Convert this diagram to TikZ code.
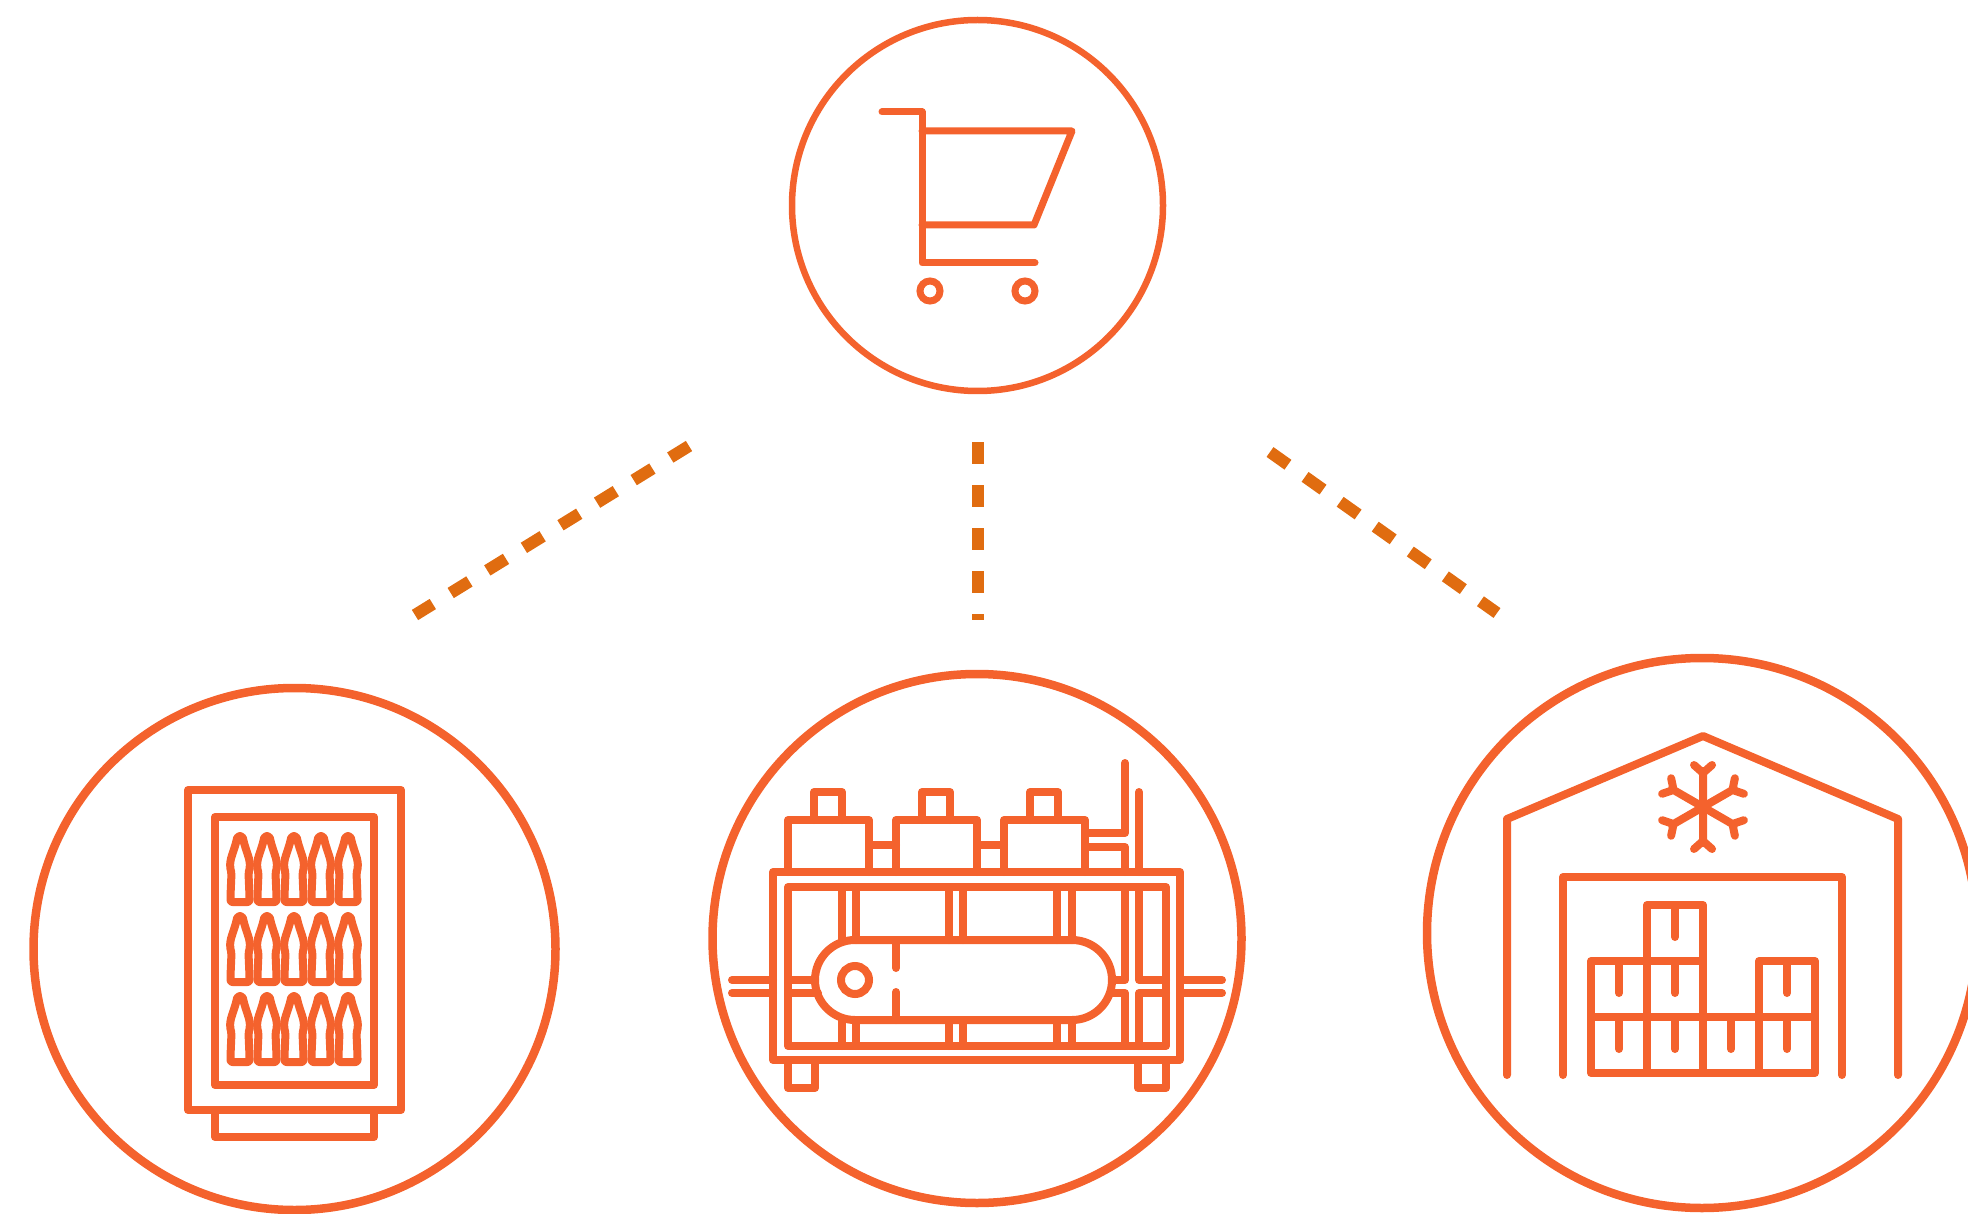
\documentclass[tikz,border=0pt]{standalone}
\usepackage{tikz}
\usetikzlibrary{shapes,arrows,positioning}
\definecolor{rust}{HTML}{F4622D}
\definecolor{amber}{HTML}{E06C10}
\tikzstyle{ringthin}=[circle,draw=rust,line width=6.5pt,inner sep=0pt]
\tikzstyle{ring}=[circle,draw=rust,line width=8.5pt,inner sep=0pt]
\tikzstyle{icon}=[draw=rust,line width=8pt,line join=round,line cap=round]
\tikzstyle{iconthin}=[draw=rust,line width=7pt,line join=round,line cap=round]
\tikzstyle{link}=[draw=amber,line width=12pt,dash pattern=on 22pt off 21pt]

\begin{document}
\begin{tikzpicture}[x=1pt,y=-1pt]
\useasboundingbox (0,0) rectangle (1968,1214);
\clip (0,0) rectangle (1968,1214);
\node (shop) [ringthin,minimum size=371pt] at (977.5,205.5) {};
\node (fridge) [ring,minimum size=522pt] at (294.5,949) {};
\node (plant) [ring,minimum size=529pt] at (977,938.5) {};
\node (cold) [ring,minimum size=550pt] at (1702,933) {};
\coordinate (shopL) at (689,446);
\coordinate (fridgeT) at (415,615);
\coordinate (shopM) at (978,442);
\coordinate (plantT) at (978,620);
\coordinate (shopR) at (1270,452);
\coordinate (coldT) at (1497,613);
\draw [link] (shopL) -- (fridgeT);
\draw [link] (shopM) -- (plantT);
\draw [link] (shopR) -- (coldT);
% cart
\draw [iconthin] (882,112) -- (922,112) -- (922,263) -- (1035,263);
\draw [iconthin] (922,131) -- (1072,131) -- (1034,225) -- (922,225);
\node (wheelA) [circle,draw=rust,line width=7pt,minimum size=20pt,inner sep=0pt] at (930,291) {};
\node (wheelB) [circle,draw=rust,line width=7pt,minimum size=20pt,inner sep=0pt] at (1025,291) {};
% fridge
\draw [icon] (188,790) rectangle (401,1110);
\draw [icon] (215,817) rectangle (374,1085);
\draw [icon] (215,1110) -- (215,1137) -- (374,1137) -- (374,1110);
\foreach \y in {836,916,996}
  \foreach \x in {240,267,294,321,348}
    \draw [icon,shift={(\x,\y)},rounded corners=2pt] (-2.5,0) -- (2.5,0) -- (4,7) -- (9.5,24) -- (10,31) -- (8.5,37) -- (9.5,60) -- (9.5,66) -- (-9.5,66) -- (-9.5,60) -- (-8.5,37) -- (-10,31) -- (-9.5,24) -- (-4,7) -- cycle;
% machine
\draw [icon] (773,872) rectangle (1180,1060);
\draw [icon] (788,887) rectangle (1166,1046);
\draw [icon] (788,1060) -- (788,1088) -- (815,1088) -- (815,1060);
\draw [icon] (1138,1060) -- (1138,1088) -- (1166,1088) -- (1166,1060);
\foreach \x in {788,896,1004} {
  \draw [icon] (\x,872) -- (\x,820) -- (\x+81,820) -- (\x+81,872);
  \draw [icon] (\x+26,820) -- (\x+26,792) -- (\x+54,792) -- (\x+54,820);
}
\draw [icon] (869,845) -- (896,845);
\draw [icon] (977,845) -- (1004,845);
\draw [icon] (1085,833) -- (1125,833) -- (1125,763);
\draw [icon] (1085,847) -- (1125,847) -- (1125,872);
\draw [icon] (1139,792) -- (1139,872);
\foreach \x in {842,856,949,963,1057,1072} {
  \draw [icon] (\x,887) -- (\x,940);
  \draw [icon] (\x,1020) -- (\x,1046);
}
\draw [icon,rounded corners=40pt] (815,940) rectangle (1112,1020);
\node (roller) [circle,draw=rust,line width=8pt,minimum size=28pt,inner sep=0pt] at (855,980) {};
\draw [icon] (896,940) -- (896,968);
\draw [icon] (896,992) -- (896,1020);
\draw [icon] (732,980) -- (773,980);
\draw [icon] (732,993) -- (773,993);
\draw [icon] (1180,980) -- (1222,980);
\draw [icon] (1180,993) -- (1222,993);
\draw [icon] (788,980) -- (815,980);
\draw [icon] (788,993) -- (818,993);
\draw [icon] (1112,980) -- (1125,980) -- (1125,887);
\draw [icon] (1110,993) -- (1125,993) -- (1125,1046);
\draw [icon] (1139,887) -- (1139,980) -- (1166,980);
\draw [icon] (1166,993) -- (1139,993) -- (1139,1046);
% warehouse
\draw [icon] (1507,1075) -- (1507,819) -- (1703,736) -- (1898,819) -- (1898,1075);
\draw [icon] (1563,1075) -- (1563,877) -- (1842,877) -- (1842,1075);
\foreach \x/\y in {1591/1017,1647/1017,1703/1017,1759/1017,1591/961,1647/961,1759/961,1647/905} {
  \draw [icon] (\x,\y) rectangle (\x+56,\y+56);
  \draw [icon] (\x+28,\y) -- (\x+28,\y+32);
}
\foreach \a in {0,60,...,300}
  \draw [icon,shift={(1703,807)},rotate=\a] (0,0) -- (0,-36) (-9,-42) -- (0,-34) -- (9,-42);
\end{tikzpicture}
\end{document}
